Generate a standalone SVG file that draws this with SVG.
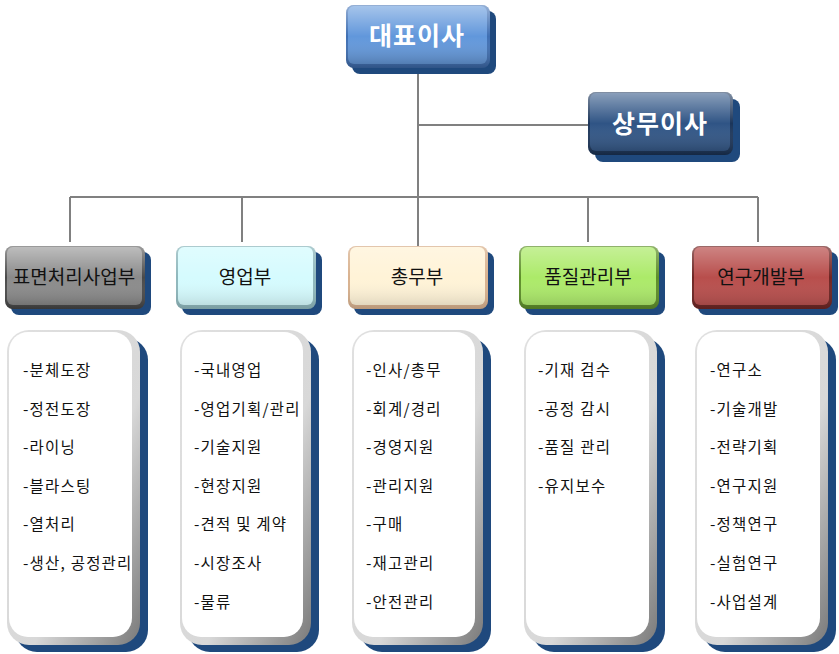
<svg xmlns="http://www.w3.org/2000/svg" width="839" height="654" viewBox="0 0 839 654">
<defs>
<linearGradient id="gl" x1="0" y1="0" x2="0" y2="1"><stop offset="0" stop-color="#ffffff" stop-opacity="0.45"/><stop offset="0.5" stop-color="#ffffff" stop-opacity="0"/><stop offset="1" stop-color="#000000" stop-opacity="0.25"/></linearGradient>
<linearGradient id="lw" x1="0" y1="0" x2="1" y2="1"><stop offset="0" stop-color="#e0e0e0"/><stop offset="0.6" stop-color="#d8d8d8"/><stop offset="1" stop-color="#7a7a7a"/></linearGradient>
</defs>
<style>
.sh{fill:#1F497D}
.top{font-family:"Noto Sans CJK KR","Noto Sans",sans-serif;font-weight:bold;font-size:25px;letter-spacing:1px;fill:#ffffff;text-anchor:middle}
.dep{font-family:"Noto Sans CJK KR","Noto Sans",sans-serif;font-size:19px;fill:#111;text-anchor:middle}
.it{font-family:"Noto Sans CJK KR","Noto Sans",sans-serif;font-size:15.5px;letter-spacing:1.2px;fill:#111}
.ln{stroke:#808080;stroke-width:2;fill:none}
.gl{fill:url(#gl)}
.lo{fill:url(#lw)}
.li{fill:#ffffff}
</style>
<rect width="839" height="654" fill="#ffffff"/>
<g id="connectors">
<path class="ln" d="M418 68 V197 M418 125 H590 M70 197 H758 M70 197 V242 M242 197 V242 M418 197 V246 M588 197 V242 M758 197 V242"/>
</g>
<g id="ceo">
<rect class="sh" x="352" y="11" width="144" height="63" rx="8"/>
<rect x="346" y="5" width="144" height="63" rx="8" fill="#3F6FB3"/>
<rect x="348" y="6" width="139" height="58" rx="6" fill="#6197DB"/>
<rect x="346" y="5" width="144" height="63" rx="8" class="gl"/>
<text class="top" x="417" y="45">대표이사</text>
</g>
<g id="vp">
<rect class="sh" x="595" y="99" width="145" height="63" rx="8"/>
<rect x="588" y="92" width="145" height="63" rx="8" fill="#1B355A"/>
<rect x="590" y="93" width="140" height="58" rx="6" fill="#2F5485"/>
<rect x="588" y="92" width="145" height="63" rx="8" class="gl"/>
<text class="top" x="660" y="133">상무이사</text>
</g>
<g id="dept1">
<rect class="sh" x="11" y="252" width="140" height="63" rx="8"/>
<rect x="5" y="246" width="140" height="63" rx="8" fill="#4a4a4a"/>
<rect x="7" y="247" width="135" height="58" rx="6" fill="#8A8A8A"/>
<rect x="5" y="246" width="140" height="63" rx="8" class="gl"/>
<text class="dep" x="74" y="284">표면처리사업부</text>
</g>
<g id="dept2">
<rect class="sh" x="182" y="252" width="140" height="63" rx="8"/>
<rect x="176" y="246" width="140" height="63" rx="8" fill="#8FB8BD"/>
<rect x="178" y="247" width="135" height="58" rx="6" fill="#D5FBFE"/>
<rect x="176" y="246" width="140" height="63" rx="8" class="gl" opacity="0.6"/>
<text class="dep" x="245" y="284">영업부</text>
</g>
<g id="dept3">
<rect class="sh" x="354" y="252" width="140" height="63" rx="8"/>
<rect x="348" y="246" width="140" height="63" rx="8" fill="#D9B28F"/>
<rect x="350" y="247" width="135" height="58" rx="6" fill="#FFF3D7"/>
<rect x="348" y="246" width="140" height="63" rx="8" class="gl" opacity="0.6"/>
<text class="dep" x="417" y="284">총무부</text>
</g>
<g id="dept4">
<rect class="sh" x="525" y="252" width="140" height="63" rx="8"/>
<rect x="519" y="246" width="140" height="63" rx="8" fill="#5E8F2A"/>
<rect x="521" y="247" width="135" height="58" rx="6" fill="#ACEA69"/>
<rect x="519" y="246" width="140" height="63" rx="8" class="gl" opacity="0.7"/>
<text class="dep" x="588" y="284">품질관리부</text>
</g>
<g id="dept5">
<rect class="sh" x="698" y="252" width="140" height="63" rx="8"/>
<rect x="692" y="246" width="140" height="63" rx="8" fill="#6E2523"/>
<rect x="694" y="247" width="135" height="58" rx="6" fill="#B84E4C"/>
<rect x="692" y="246" width="140" height="63" rx="8" class="gl" opacity="0.7"/>
<text class="dep" x="761" y="284">연구개발부</text>
</g>
<g id="list1">
<rect class="sh" x="15" y="338" width="133" height="314" rx="22"/>
<rect class="lo" x="7" y="330" width="133" height="315" rx="22"/>
<rect class="li" x="9" y="332" width="123" height="305" rx="19"/>
<text class="it"><tspan x="23" y="376">-분체도장</tspan><tspan x="23" y="415">-정전도장</tspan><tspan x="23" y="453">-라이닝</tspan><tspan x="23" y="492">-블라스팅</tspan><tspan x="23" y="530">-열처리</tspan><tspan x="23" y="569">-생산, 공정관리</tspan></text>
</g>
<g id="list2">
<rect class="sh" x="188" y="338" width="131" height="314" rx="22"/>
<rect class="lo" x="180" y="330" width="131" height="315" rx="22"/>
<rect class="li" x="182" y="332" width="121" height="305" rx="19"/>
<text class="it"><tspan x="194" y="376">-국내영업</tspan><tspan x="194" y="415">-영업기획/관리</tspan><tspan x="194" y="453">-기술지원</tspan><tspan x="194" y="492">-현장지원</tspan><tspan x="194" y="530">-견적 및 계약</tspan><tspan x="194" y="569">-시장조사</tspan><tspan x="194" y="608">-물류</tspan></text>
</g>
<g id="list3">
<rect class="sh" x="360" y="338" width="131" height="314" rx="22"/>
<rect class="lo" x="352" y="330" width="131" height="315" rx="22"/>
<rect class="li" x="354" y="332" width="121" height="305" rx="19"/>
<text class="it"><tspan x="366" y="376">-인사/총무</tspan><tspan x="366" y="415">-회계/경리</tspan><tspan x="366" y="453">-경영지원</tspan><tspan x="366" y="492">-관리지원</tspan><tspan x="366" y="530">-구매</tspan><tspan x="366" y="569">-재고관리</tspan><tspan x="366" y="608">-안전관리</tspan></text>
</g>
<g id="list4">
<rect class="sh" x="532" y="338" width="133" height="314" rx="22"/>
<rect class="lo" x="524" y="330" width="133" height="315" rx="22"/>
<rect class="li" x="526" y="332" width="123" height="305" rx="19"/>
<text class="it"><tspan x="538" y="376">-기재 검수</tspan><tspan x="538" y="415">-공정 감시</tspan><tspan x="538" y="453">-품질 관리</tspan><tspan x="538" y="492">-유지보수</tspan></text>
</g>
<g id="list5">
<rect class="sh" x="703" y="338" width="133" height="314" rx="22"/>
<rect class="lo" x="695" y="330" width="133" height="315" rx="22"/>
<rect class="li" x="697" y="332" width="123" height="305" rx="19"/>
<text class="it"><tspan x="710" y="376">-연구소</tspan><tspan x="710" y="415">-기술개발</tspan><tspan x="710" y="453">-전략기획</tspan><tspan x="710" y="492">-연구지원</tspan><tspan x="710" y="530">-정책연구</tspan><tspan x="710" y="569">-실험연구</tspan><tspan x="710" y="608">-사업설계</tspan></text>
</g>
</svg>
